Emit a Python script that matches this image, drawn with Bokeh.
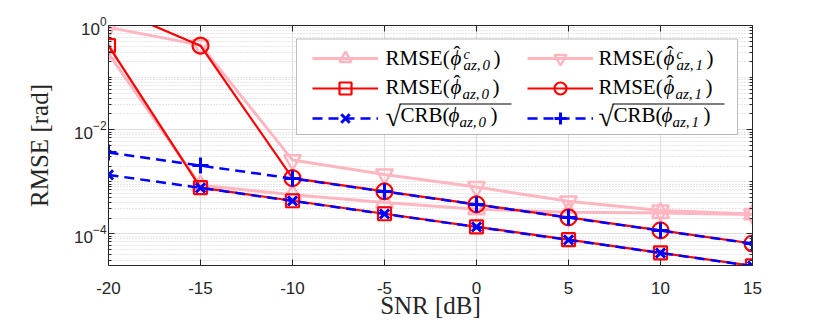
from bokeh.plotting import figure
from bokeh.models import (Range1d, FixedTicker, LinearAxis, LogAxis, Legend, LegendItem,
                          Label, Arrow, BoxAnnotation)
from bokeh.embed import file_html
from bokeh.resources import INLINE

# ---------------- data ----------------
snr = [-20, -15, -10, -5, 0, 5, 10, 15]
rmse_c_phi0 = [2.9e-1, 8.5e-4, 5.6e-4, 4.0e-4, 2.95e-4, 2.6e-4, 2.5e-4, 2.35e-4]
rmse_c_phi1 = [0.92, 4.2e-1, 2.6e-3, 1.38e-3, 7.9e-4, 4.2e-4, 2.8e-4, 2.4e-4]
rmse_phi0 = [4.1e-1, 7.7e-4, 4.3e-4, 2.42e-4, 1.36e-4, 7.7e-5, 4.3e-5, 2.42e-5]
rmse_phi1 = [2.3, 4.1e-1, 1.17e-3, 6.5e-4, 3.66e-4, 2.06e-4, 1.16e-4, 6.5e-5]
crb_phi0 = [1.35e-3, 7.6e-4, 4.27e-4, 2.40e-4, 1.35e-4, 7.6e-5, 4.27e-5, 2.40e-5]
crb_phi1 = [3.63e-3, 2.04e-3, 1.15e-3, 6.46e-4, 3.63e-4, 2.04e-4, 1.15e-4, 6.46e-5]

x_ticks = [-20, -15, -10, -5, 0, 5, 10, 15]
x_tick_labels = ["-20", "-15", "-10", "-5", "0", "5", "10", "15"]
y_ticks = [1e-4, 1e-2, 1e0]
y_minor = [m * 10.0 ** k for k in range(-5, 0) for m in range(1, 10) if m * 10.0 ** k not in y_ticks]

x_label = "SNR [dB]"
y_label = "RMSE [rad]"

PINK = "#FFB6C1"
RED = "#FF0000"
BLUE = "#0000FF"
AX = "#262626"
SERIF = "Liberation Serif"
SANS = "Liberation Sans"

p = figure(frame_width=644, frame_height=240,
           min_border_left=108, min_border_right=70, min_border_top=25, min_border_bottom=59,
           y_axis_type="log", x_range=Range1d(-20, 15), y_range=Range1d(10 ** -4.61, 1.0),
           output_backend="svg", toolbar_location=None)
p.outline_line_color = None

xt = FixedTicker(ticks=x_ticks, minor_ticks=[])
yt = FixedTicker(ticks=y_ticks, minor_ticks=y_minor)

xa = p.below[0]
ya = p.left[0]
xa.ticker = xt
ya.ticker = yt
xa.major_label_overrides = {t: s for t, s in zip(x_ticks, x_tick_labels)}

for ax in (xa, ya):
    ax.axis_line_color = AX
    ax.major_tick_line_color = AX
    ax.minor_tick_line_color = AX
    ax.major_tick_in = 6
    ax.major_tick_out = 0
    ax.minor_tick_in = 3
    ax.minor_tick_out = 0
    ax.major_label_text_font = SANS
    ax.major_label_text_font_size = "17px"
    ax.major_label_text_color = AX
    ax.axis_label_text_font = SERIF
    ax.axis_label_text_font_style = "normal"
    ax.axis_label_text_font_size = "25px"
    ax.axis_label_text_color = AX

xa.axis_label = x_label
ya.axis_label = y_label
xa.major_label_standoff = 16
xa.axis_label_standoff = -5
ya.major_label_standoff = 2
ya.axis_label_standoff = 18

top = LinearAxis(ticker=xt, major_label_text_font_size="8px", major_label_text_alpha=0,
                 axis_line_color=AX, major_tick_line_color=AX, major_tick_in=6, major_tick_out=0,
                 minor_tick_out=0, minor_tick_in=0, major_label_standoff=0)
right = LogAxis(ticker=yt, major_label_text_font_size="8px", major_label_text_alpha=0,
                axis_line_color=AX, major_tick_line_color=AX, minor_tick_line_color=AX,
                major_tick_in=6, major_tick_out=0, minor_tick_in=3, minor_tick_out=0,
                major_label_standoff=0)
p.add_layout(top, "above")
p.add_layout(right, "right")

p.xgrid.grid_line_color = "#dedede"
p.ygrid.grid_line_color = "#dedede"
p.ygrid.minor_grid_line_color = "#cccccc"
p.ygrid.minor_grid_line_dash = "1 2"

# ---------------- legend frame (under the data, over the grid) ----------------
FL, FB = 108, 265  # frame left / bottom in image px


def sx(ix):
    return ix - FL


def sy(iy):
    return FB - iy


p.add_layout(BoxAnnotation(left=sx(296), right=sx(737), top=sy(38.5), bottom=sy(134),
                           left_units="screen", right_units="screen", top_units="screen",
                           bottom_units="screen", fill_color="white", fill_alpha=1.0,
                           line_color=AX, line_width=1, level="underlay"))


# ---------------- series ----------------
def series(y, color, width, marker, size, mwidth, dash="solid"):
    l = p.line(snr, y, line_color=color, line_width=width, line_dash=dash)
    s = p.scatter(snr, y, marker=marker, size=size, line_color=color, line_width=mwidth,
                  fill_color=None)
    return [l, s]


r_c0 = series(rmse_c_phi0, PINK, 3, "triangle", 17, 2.5)
r_c1 = series(rmse_c_phi1, PINK, 3, "inverted_triangle", 17, 2.5)
r_0 = series(rmse_phi0, RED, 2.2, "square", 13, 2.2)
r_1 = series(rmse_phi1, RED, 2.2, "circle", 16, 2.2)
r_b0 = series(crb_phi0, BLUE, 2.5, "x", 13, 3, dash="10 6")
r_b1 = series(crb_phi1, BLUE, 2.5, "cross", 16, 3, dash="10 6")

# ---------------- legend ----------------
PAD = 6
for items, gx in (((r_c0, r_0, r_b0), 312), ((r_c1, r_1, r_b1), 527)):
    leg = Legend(items=[LegendItem(label=" ", renderers=r) for r in items],
                 location=(sx(gx - PAD), sy(37 + 2 * PAD + 90)), padding=PAD, spacing=0, margin=0,
                 glyph_width=66, glyph_height=30, label_height=30, label_width=10,
                 label_standoff=2, border_line_alpha=0, background_fill_alpha=0,
                 label_text_font_size="10px")
    p.add_layout(leg)


def txt(s, ix, base, size, italic=False):
    # labels are anchored near the middle of the em box: shift so `base` is the baseline
    p.add_layout(Label(x=sx(ix), y=sy(base - 0.34 * size), x_units="screen", y_units="screen",
                       text=s, text_font=SERIF, text_font_size=f"{size}px",
                       text_font_style="italic" if italic else "normal",
                       text_baseline="alphabetic", text_align="left", text_color="black",
                       level="overlay"))


rows = [65, 93.5, 122]
for x0, idx in ((385, "0"), (598, "1")):
    # row 1: RMSE(phi-hat ^c _az,i)
    b = rows[0]
    txt("RMSE(", x0, b, 21)
    txt("\u03d5", x0 + 65, b, 21, italic=True)
    txt("\u02c6", x0 + 68, b - 4, 21)
    txt("c", x0 + 78, b - 6, 14, italic=True)
    txt("az,", x0 + 78, b + 5, 15, italic=True)
    txt(idx, x0 + 97, b + 5, 15, italic=True)
    txt(")", x0 + 108, b, 21)
    # row 2: RMSE(phi-hat _az,i)
    b = rows[1]
    txt("RMSE(", x0, b, 21)
    txt("\u03d5", x0 + 65, b, 21, italic=True)
    txt("\u02c6", x0 + 68, b - 4, 21)
    txt("az,", x0 + 77, b + 5, 15, italic=True)
    txt(idx, x0 + 96, b + 5, 15, italic=True)
    txt(")", x0 + 107, b, 21)
    # row 3: sqrt(CRB(phi_az,i))
    b = rows[2]
    txt("\u221a", x0, b + 4, 28)
    txt("CRB(", x0 + 15, b, 21)
    txt("\u03d5", x0 + 63, b, 21, italic=True)
    txt("az,", x0 + 74, b + 5, 15, italic=True)
    txt(idx, x0 + 93, b + 5, 15, italic=True)
    txt(")", x0 + 105, b, 21)
    p.add_layout(Arrow(start=None, end=None, x_start=sx(x0 + 14), y_start=sy(103.5),
                       x_end=sx(x0 + 126), y_end=sy(103.5), start_units="screen",
                       end_units="screen", line_color="black", line_width=1.2, level="overlay"))

open("out.html", "w").write(file_html(p, INLINE))
